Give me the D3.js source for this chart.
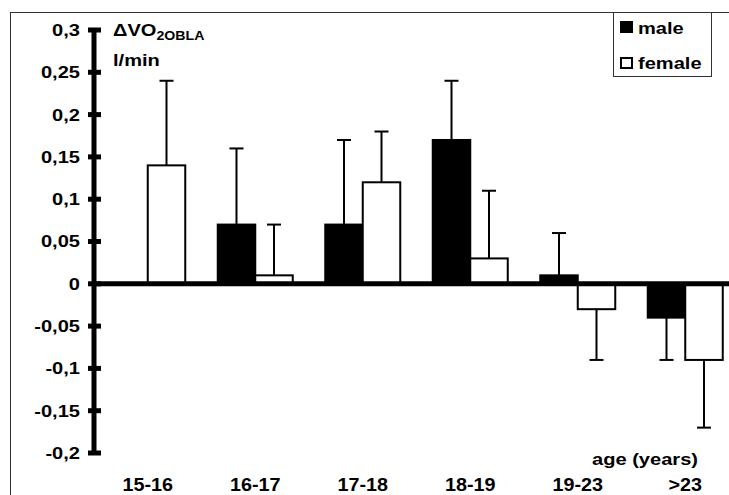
<!DOCTYPE html>
<html>
<head>
<meta charset="utf-8">
<script src="https://cdn.jsdelivr.net/npm/d3@7"></script>
<style>
  body { margin: 0; background: #fff; }
  text { font-family: "Liberation Sans", Arial, sans-serif; font-weight: bold; }
</style>
</head>
<body>
<div id="chart"></div>
<script>
// data
var ageGroups = ["15-16", "16-17", "17-18", "18-19", "19-23", ">23"];
var maleMean = [null, 0.07, 0.07, 0.17, 0.01, -0.04];
var maleErr = [null, 0.16, 0.17, 0.24, 0.06, -0.09];
var femaleMean = [0.14, 0.01, 0.12, 0.03, -0.03, -0.09];
var femaleErr = [0.24, 0.07, 0.18, 0.11, -0.09, -0.17];
var yTicks = [0.3, 0.25, 0.2, 0.15, 0.1, 0.05, 0, -0.05, -0.1, -0.15, -0.2];
var sexes = ["male", "female"];

var W = 729, H = 495;
var svg = d3.select("#chart").append("svg")
    .attr("width", W)
    .attr("height", H);

// outer frame
svg.append("rect")
    .attr("x", 10.5).attr("y", 12.5)
    .attr("width", 760).attr("height", 520)
    .attr("fill", "none")
    .attr("stroke", "#333")
    .attr("stroke-width", 1);

var x = d3.scaleBand().domain(ageGroups).range([94, 739]);
var xs = d3.scaleBand().domain(sexes).range([0, 75]);
var y = d3.scaleLinear().domain([-0.2, 0.3]).range([453, 30]);

function barX(i, s) {
    return x(ageGroups[i]) + x.bandwidth() / 2 - 37.5 + xs(s);
}

var rows = [];
ageGroups.forEach(function(g, i) {
    if (maleMean[i] !== null) rows.push({i: i, s: "male", v: maleMean[i], e: maleErr[i]});
    rows.push({i: i, s: "female", v: femaleMean[i], e: femaleErr[i]});
});

// error bars (behind the bars)
var err = svg.append("g").attr("stroke", "#000").attr("stroke-width", 2);
rows.forEach(function(d) {
    var cx = barX(d.i, d.s) + xs.bandwidth() / 2;
    err.append("line")
        .attr("x1", cx).attr("x2", cx)
        .attr("y1", y(d.v)).attr("y2", y(d.e));
    err.append("line")
        .attr("x1", cx - 7).attr("x2", cx + 7)
        .attr("y1", y(d.e)).attr("y2", y(d.e));
});

svg.append("g").selectAll("rect")
    .data(rows)
    .enter().append("rect")
    .attr("x", function(d) { return barX(d.i, d.s); })
    .attr("width", xs.bandwidth())
    .attr("y", function(d) { return Math.min(y(d.v), y(0)); })
    .attr("height", function(d) { return Math.abs(y(d.v) - y(0)); })
    .attr("fill", function(d) { return d.s == "male" ? "#000" : "#fff"; })
    .attr("stroke", "#000")
    .attr("stroke-width", 2);

// y axis
var yAxis = d3.axisLeft(y)
    .tickValues(yTicks)
    .tickSize(0)
    .tickPadding(14)
    .tickFormat(function(d) { return String(d).replace(".", ","); });

var ya = svg.append("g")
    .attr("transform", "translate(94,0)")
    .call(yAxis);
ya.select(".domain").remove();
ya.selectAll("text").attr("font-size", 17).attr("fill", "#000");

svg.append("line")
    .attr("x1", 94).attr("x2", 94)
    .attr("y1", y(0.3)).attr("y2", y(-0.2))
    .attr("stroke", "#000").attr("stroke-width", 5);
svg.append("g").selectAll("line")
    .data(yTicks)
    .enter().append("line")
    .attr("x1", 88).attr("x2", 101)
    .attr("y1", function(d) { return y(d); })
    .attr("y2", function(d) { return y(d); })
    .attr("stroke", "#000").attr("stroke-width", 5);

// zero line
svg.append("line")
    .attr("x1", 94).attr("x2", 729)
    .attr("y1", y(0)).attr("y2", y(0))
    .attr("stroke", "#000").attr("stroke-width", 5);

// x labels
var xl = svg.append("g").selectAll("text")
    .data(ageGroups)
    .enter().append("text")
    .attr("class", "xlab")
    .attr("x", function(d) { return x(d) + x.bandwidth() / 2; })
    .attr("y", 491)
    .attr("text-anchor", "middle")
    .attr("font-size", 19)
    .text(function(d) { return d; });

svg.append("text")
    .attr("x", 698).attr("y", 465)
    .attr("text-anchor", "end")
    .attr("font-size", 17)
    .text("age (years)");

// y title
var t = svg.append("text").attr("x", 113).attr("y", 36).attr("font-size", 17);
t.append("tspan").text("\u0394VO");
t.append("tspan").attr("font-size", 12).attr("dy", 4).text("2OBLA");
svg.append("text").attr("x", 113).attr("y", 66).attr("font-size", 17).text("l/min");

// legend
var lg = svg.append("g");
lg.append("rect")
    .attr("x", 613.5).attr("y", 12.5)
    .attr("width", 98).attr("height", 64)
    .attr("fill", "#fff").attr("stroke", "#333").attr("stroke-width", 1);
sexes.forEach(function(s, i) {
    lg.append("rect")
        .attr("x", 621).attr("y", 22 + i * 36)
        .attr("width", 11).attr("height", 10)
        .attr("fill", s == "male" ? "#000" : "#fff")
        .attr("stroke", "#000").attr("stroke-width", 2);
    lg.append("text")
        .attr("x", 638).attr("y", 34 + i * 35)
        .attr("font-size", 17)
        .text(s);
});

// the original lettering is wider than Liberation Sans Bold; stretch it
function stretch(el, k) {
    var len = el.getComputedTextLength();
    d3.select(el)
        .attr("textLength", len * k)
        .attr("lengthAdjust", "spacingAndGlyphs");
}
svg.selectAll("text").each(function() {
    if (this.querySelector("tspan")) return;
    stretch(this, this.getAttribute("class") == "xlab" ? 1.04 : 1.18);
});
t.selectAll("tspan").each(function() { stretch(this, 1.18); });
</script>
</body>
</html>
